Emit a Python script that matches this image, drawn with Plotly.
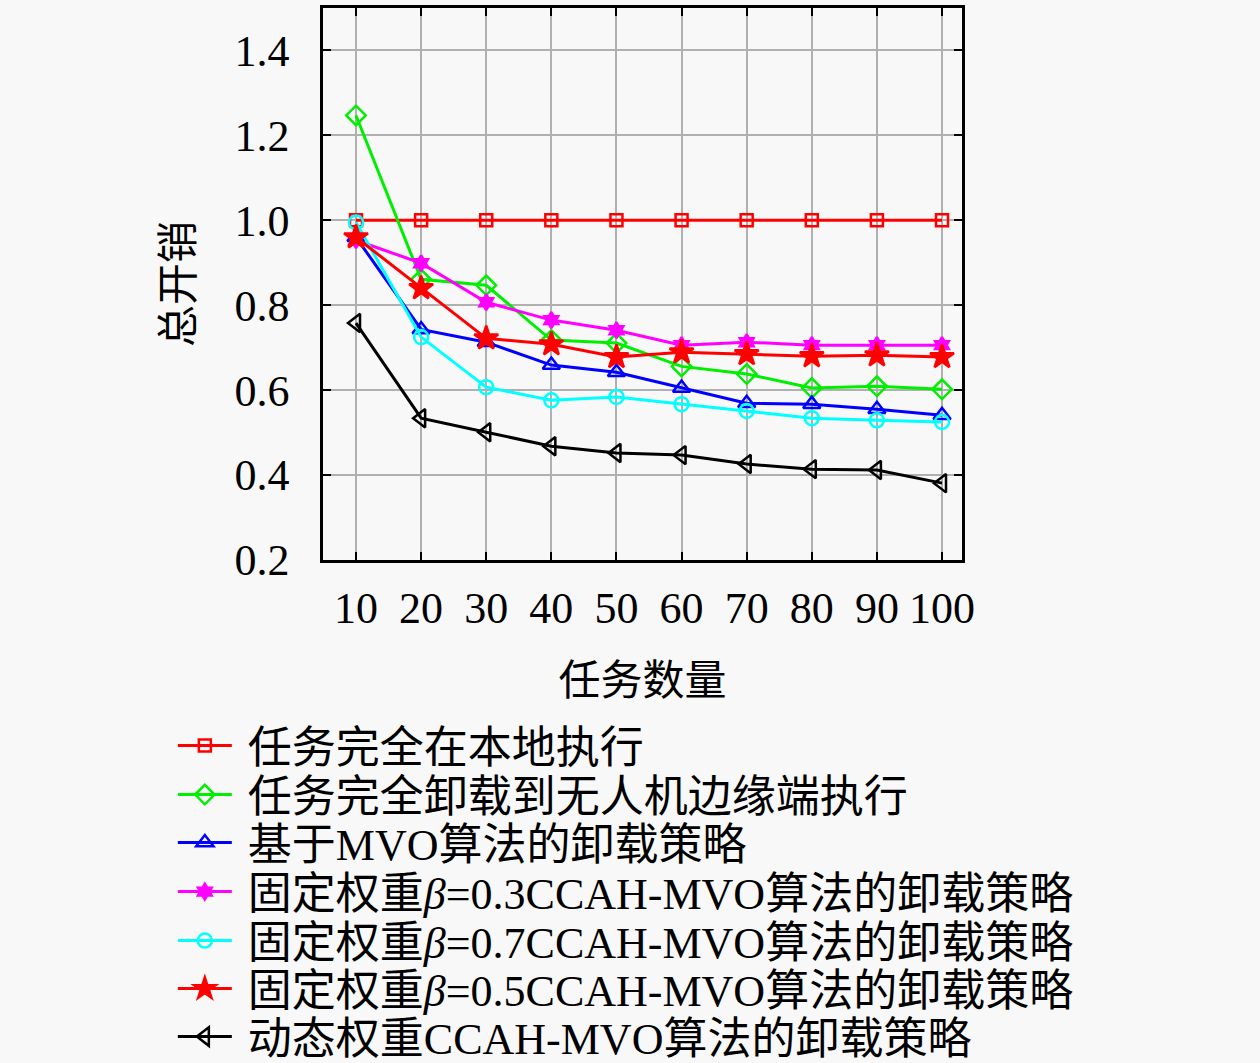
import plotly.graph_objects as go

# task counts on the x axis
tasks = [10, 20, 30, 40, 50, 60, 70, 80, 90, 100]

# total cost per strategy
local_all = [1.0, 1.0, 1.0, 1.0, 1.0, 1.0, 1.0, 1.0, 1.0, 1.0]
uav_all = [1.247, 0.861, 0.847, 0.718, 0.711, 0.656, 0.638, 0.605, 0.609, 0.602]
mvo = [0.960, 0.743, 0.713, 0.659, 0.642, 0.605, 0.569, 0.567, 0.555, 0.541]
beta03 = [0.953, 0.899, 0.807, 0.765, 0.741, 0.706, 0.713, 0.706, 0.706, 0.706]
beta07 = [0.995, 0.725, 0.607, 0.576, 0.584, 0.567, 0.551, 0.534, 0.529, 0.525]
beta05 = [0.960, 0.840, 0.722, 0.708, 0.678, 0.689, 0.685, 0.680, 0.682, 0.678]
dynamic = [0.758, 0.534, 0.501, 0.468, 0.452, 0.447, 0.426, 0.414, 0.412, 0.381]

names = [
    "任务完全在本地执行",
    "任务完全卸载到无人机边缘端执行",
    "基于MVO算法的卸载策略",
    "固定权重<i>β</i>=0.3CCAH-MVO算法的卸载策略",
    "固定权重<i>β</i>=0.7CCAH-MVO算法的卸载策略",
    "固定权重<i>β</i>=0.5CCAH-MVO算法的卸载策略",
    "动态权重CCAH-MVO算法的卸载策略",
]

FONT = "Liberation Serif, DejaVu Serif, Noto Sans CJK SC"

series = [
    (local_all, "#ff0000", "square-open", 12),
    (uav_all, "#00ee00", "diamond-open", 15),
    (mvo, "#0000ff", "triangle-up-open", 15),
    (beta03, "#ff00ff", "hexagram", 12),
    (beta07, "#00ffff", "circle-open", 14),
    (beta05, "#ff0000", "star", 18),
    (dynamic, "#000000", "triangle-left-open", 16),
]

fig = go.Figure()
legend_rows = [746, 795, 843, 892, 941, 989, 1037]  # pixel centres of legend rows
for i, (vals, color, sym, size) in enumerate(series):
    lg = "legend" if i == 0 else f"legend{i + 1}"
    fig.add_trace(go.Scatter(
        x=tasks, y=vals, name="\u00a0" + names[i], mode="lines+markers",
        line=dict(color=color, width=3),
        marker=dict(symbol=sym, size=size, color=color, line=dict(color=color, width=2.5)),
        legend=lg,
    ))
    fig.update_layout({lg: dict(
        x=-0.235, xanchor="left",
        y=(560 - legend_rows[i]) / 552, yanchor="middle",
        bgcolor="rgba(0,0,0,0)",
        font=dict(family=FONT, size=44, color="black"),
        itemwidth=54,
    )})

axis_common = dict(
    showline=True, linecolor="black", linewidth=2.5, mirror="ticks",
    ticks="inside", ticklen=8, tickwidth=2, tickcolor="black",
    showgrid=True, gridcolor="#b0b0b0", gridwidth=2, zeroline=False,
    tickfont=dict(family=FONT, size=44, color="black"),
)

fig.update_xaxes(
    range=[4.93, 103.07], tickvals=tasks, ticklabelstandoff=7,
    title=dict(text="任务数量", font=dict(family=FONT, size=42, color="black"), standoff=35),
    **axis_common,
)
fig.update_yaxes(
    range=[0.2, 1.5], tickvals=[0.2, 0.4, 0.6, 0.8, 1.0, 1.2, 1.4], tickformat=".1f",
    ticklabelstandoff=22,
    title=dict(text="总开销", font=dict(family=FONT, size=42, color="black"), standoff=28),
    **axis_common,
)

fig.update_layout(
    width=1260, height=1063,
    margin=dict(l=323, r=298, t=8, b=503, autoexpand=False),
    paper_bgcolor="#f8f8f8", plot_bgcolor="#f8f8f8",
    showlegend=True,
)

fig.write_html("out.html", config={"displayModeBar": False},
               post_script="document.body.style.margin='0px';")
